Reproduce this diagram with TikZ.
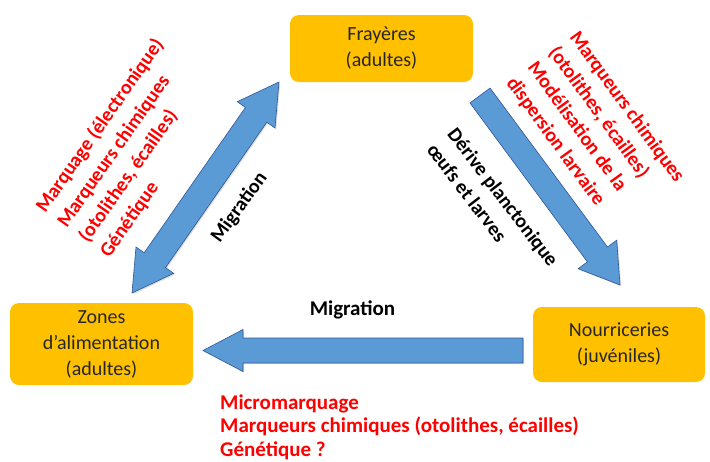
\documentclass[tikz,border=0pt]{standalone}
\usepackage{fontspec}
\setmainfont{Carlito}
\usetikzlibrary{calc,shadows}
\definecolor{boxorange}{HTML}{FFC000}
\definecolor{arrowblue}{HTML}{5B9BD5}
\definecolor{arrowedge}{HTML}{2F5597}
\definecolor{markred}{HTML}{FF0000}
\begin{document}
\begin{tikzpicture}[x=1pt,y=-1pt,
  box/.style={fill=boxorange, rounded corners=9pt, inner sep=0pt, align=center,
    text=black!85, font=\fontsize{20}{26}\selectfont},
  blockarrow/.style={fill=arrowblue, draw=arrowedge, line width=0.6pt, line join=miter,
    drop shadow={shadow xshift=1.2pt, shadow yshift=-1.2pt, opacity=0.25}},
  redtxt/.style={text=markred, font=\bfseries\fontsize{20}{26}\selectfont, align=left, inner sep=0pt},
  blktxt/.style={text=black, font=\bfseries\fontsize{20}{26}\selectfont, align=left, inner sep=0pt}]
\useasboundingbox (0,0) rectangle (710,461);

% boxes
\node[box, minimum width=183pt, minimum height=67pt] (fray) at (381.5,48.5) {Frayères\\(adultes)};
\node[box, minimum width=183pt, minimum height=82pt] (zones) at (101.5,344) {Zones\\d'alimentation\\(adultes)};
\node[box, minimum width=172pt, minimum height=75pt] (nour) at (619,344.5) {Nourriceries\\(juvéniles)};

% left double arrow (zones <-> frayeres)
\coordinate (la1) at (132,293);
\coordinate (la2) at (279,82);
\coordinate (lb1) at ($(la1)!40pt!(la2)$);
\coordinate (lb2) at ($(la2)!40pt!(la1)$);
\filldraw[blockarrow] ($(lb1)!13pt!90:(la2)$) -- ($(lb2)!13pt!90:(la2)$) -- ($(lb2)!23pt!90:(la2)$)
  -- (la2) -- ($(lb2)!23pt!-90:(la2)$) -- ($(lb2)!13pt!-90:(la2)$) -- ($(lb1)!13pt!-90:(la2)$)
  -- ($(lb1)!23pt!-90:(la2)$) -- (la1) -- ($(lb1)!23pt!90:(la2)$) -- cycle;

% right arrow (frayeres -> nourriceries)
\coordinate (ra1) at (480,95.5);
\coordinate (ra2) at (620,285);
\coordinate (rb) at ($(ra2)!38pt!(ra1)$);
\filldraw[blockarrow] ($(ra1)!12.5pt!90:(ra2)$) -- ($(rb)!12.5pt!90:(ra2)$) -- ($(rb)!24pt!90:(ra2)$)
  -- (ra2) -- ($(rb)!24pt!-90:(ra2)$) -- ($(rb)!12.5pt!-90:(ra2)$) -- ($(ra1)!12.5pt!-90:(ra2)$) -- cycle;

% bottom arrow (nourriceries -> zones)
\coordinate (ba1) at (523,350.5);
\coordinate (ba2) at (203,350.5);
\coordinate (bb) at ($(ba2)!40pt!(ba1)$);
\filldraw[blockarrow] ($(ba1)!12.5pt!90:(ba2)$) -- ($(bb)!12.5pt!90:(ba2)$) -- ($(bb)!21pt!90:(ba2)$)
  -- (ba2) -- ($(bb)!21pt!-90:(ba2)$) -- ($(bb)!12.5pt!-90:(ba2)$) -- ($(ba1)!12.5pt!-90:(ba2)$) -- cycle;

% texts
\node[redtxt, rotate=55] (lred) at (132,148) {Marquage (électronique)\\Marqueurs chimiques\\(otolithes, écailles)\\Génétique};
\node[blktxt, rotate=54] (lmig) at (239.5,207.5) {Migration};
\node[blktxt, rotate=-52.5] (rblk) at (493,205) {Dérive planctonique\\œufs et larves};
\node[redtxt, rotate=-54] (rred) at (595,130) {Marqueurs chimiques\\(otolithes, écailles)\\Modélisation de la\\dispersion larvaire};
\node[blktxt, font=\bfseries\fontsize{21}{26}\selectfont] (bmig) at (352.5,310) {Migration};
\node[redtxt, anchor=west, font=\bfseries\fontsize{21}{23.5}\selectfont] (bred) at (220,427) {Micromarquage\\Marqueurs chimiques (otolithes, écailles)\\Génétique ?};
\end{tikzpicture}
\end{document}
